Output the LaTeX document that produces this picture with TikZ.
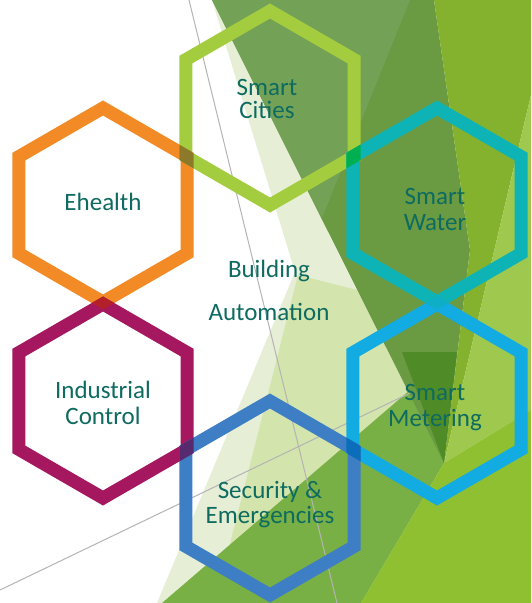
\documentclass[tikz,border=0pt]{standalone}
\usepackage{fontspec}
\setmainfont{Carlito}
\definecolor{lightA}{HTML}{E6EFD6}
\definecolor{lightB}{HTML}{D3E4AD}
\definecolor{darkG}{HTML}{6A9A42}
\definecolor{mutedG}{HTML}{73A257}
\definecolor{deepG}{HTML}{4F8B27}
\definecolor{medG}{HTML}{78B045}
\definecolor{brightG}{HTML}{84B22E}
\definecolor{limeG}{HTML}{9FC94E}
\definecolor{brightB}{HTML}{8FC031}
\definecolor{greyline}{HTML}{B4B4B4}
\definecolor{cLime}{HTML}{A3CD3E}
\definecolor{cOrange}{HTML}{F28A25}
\definecolor{cTeal}{HTML}{0DB3B5}
\definecolor{cMagenta}{HTML}{A5185F}
\definecolor{cSky}{HTML}{12ABE2}
\definecolor{cBlue}{HTML}{3E7EC4}
\definecolor{oEC}{HTML}{8C7A2A}
\definecolor{oCW}{HTML}{00B050}
\definecolor{oEI}{HTML}{B3202A}
\definecolor{oWM}{HTML}{0EAFC6}
\definecolor{oIS}{HTML}{57296F}
\definecolor{oSM}{HTML}{0C6DBA}
\definecolor{lbltext}{HTML}{0E6B60}
\tikzset{
  ring/.style={line width=13pt, line join=miter, draw=#1},
  lbl/.style={font=\fontsize{25}{25.5}\selectfont, text=lbltext, inner sep=0pt, anchor=base},
  thinline/.style={draw=greyline, line width=1pt},
}
\newcommand{\hexring}[3]{\draw[ring=#3, shift={(#1,#2)}] (90:97) -- (30:97) -- (-30:97) -- (-90:97) -- (-150:97) -- (150:97) -- cycle;}
\newcommand{\ringclip}[2]{\clip ({#1},{#2-104.5}) -- ({#1+90.5},{#2-52.25}) -- ({#1+90.5},{#2+52.25}) -- ({#1},{#2+104.5}) -- ({#1-90.5},{#2+52.25}) -- ({#1-90.5},{#2-52.25}) -- cycle ({#1},{#2-89.5}) -- ({#1+77.5},{#2-44.75}) -- ({#1+77.5},{#2+44.75}) -- ({#1},{#2+89.5}) -- ({#1-77.5},{#2+44.75}) -- ({#1-77.5},{#2-44.75}) -- cycle;}
\newcommand{\twolines}[3]{\vtop{\baselineskip=#1\halign{\hfil##\hfil\cr#2\cr#3\cr}}}
\begin{document}
\begin{tikzpicture}[x=1pt,y=-1pt]
\useasboundingbox (0,0) rectangle (531,603);
\fill[white] (0,0) rectangle (531,603);
% background facets
\fill[lightA] (212,0) -- (444,463) -- (361,603) -- (157,603) -- (295,272) -- cycle;
\fill[lightB] (298,275) -- (357,290) -- (444,463) -- (361,603) -- (215,603) -- cycle;
\fill[medG] (162,603) -- (410,390) -- (444,463) -- (361,603) -- cycle;
\fill[darkG] (212,0) -- (434,0) -- (470,250) -- (444,463) -- cycle;
\fill[mutedG] (212,0) -- (410,0) -- (322,218) -- cycle;
\fill[brightG] (434,0) -- (531,0) -- (531,95) -- (444,463) -- (470,250) -- cycle;
\fill[limeG] (531,95) -- (531,410) -- (444,463) -- cycle;
\fill[brightB] (361,603) -- (444,463) -- (531,410) -- (531,603) -- cycle;
\fill[deepG] (402,352) -- (457,352) -- (444,463) -- cycle;
% thin lines
\coordinate (la) at (189,0);
\coordinate (lb) at (337,603);
\coordinate (lc) at (0,590);
\coordinate (ld) at (410,393);
\draw[thinline] (la) -- (lb);
\draw[thinline] (lc) -- (ld);
% hexagons
\hexring{103}{205}{cOrange}
\hexring{270}{108}{cLime}
\hexring{437}{205}{cTeal}
\hexring{103}{401}{cMagenta}
\hexring{437}{401}{cSky}
\hexring{270}{498}{cBlue}
% overlaps
\begin{scope}[even odd rule]\ringclip{103}{205}\hexring{270}{108}{oEC}\end{scope}
\begin{scope}[even odd rule]\ringclip{270}{108}\hexring{437}{205}{oCW}\end{scope}
\begin{scope}[even odd rule]\ringclip{103}{205}\hexring{103}{401}{oEI}\end{scope}
\begin{scope}[even odd rule]\ringclip{437}{205}\hexring{437}{401}{oWM}\end{scope}
\begin{scope}[even odd rule]\ringclip{103}{401}\hexring{270}{498}{oIS}\end{scope}
\begin{scope}[even odd rule]\ringclip{270}{498}\hexring{437}{401}{oSM}\end{scope}
% labels
\node[lbl] (cities) at (267,95) {\twolines{23.5pt}{Smart}{Cities}};
\node[lbl] (ehealth) at (103,210) {Ehealth};
\node[lbl] (water) at (435,204) {\twolines{26pt}{Smart}{Water}};
\node[lbl] (building) at (269,277) {\twolines{43pt}{Building}{Automation}};
\node[lbl] (industrial) at (103,398) {\twolines{26pt}{Industrial}{Control}};
\node[lbl] (metering) at (435,400) {\twolines{26pt}{Smart}{Metering}};
\node[lbl] (security) at (270,498) {\twolines{25pt}{Security \&}{Emergencies}};
\end{tikzpicture}
\end{document}
